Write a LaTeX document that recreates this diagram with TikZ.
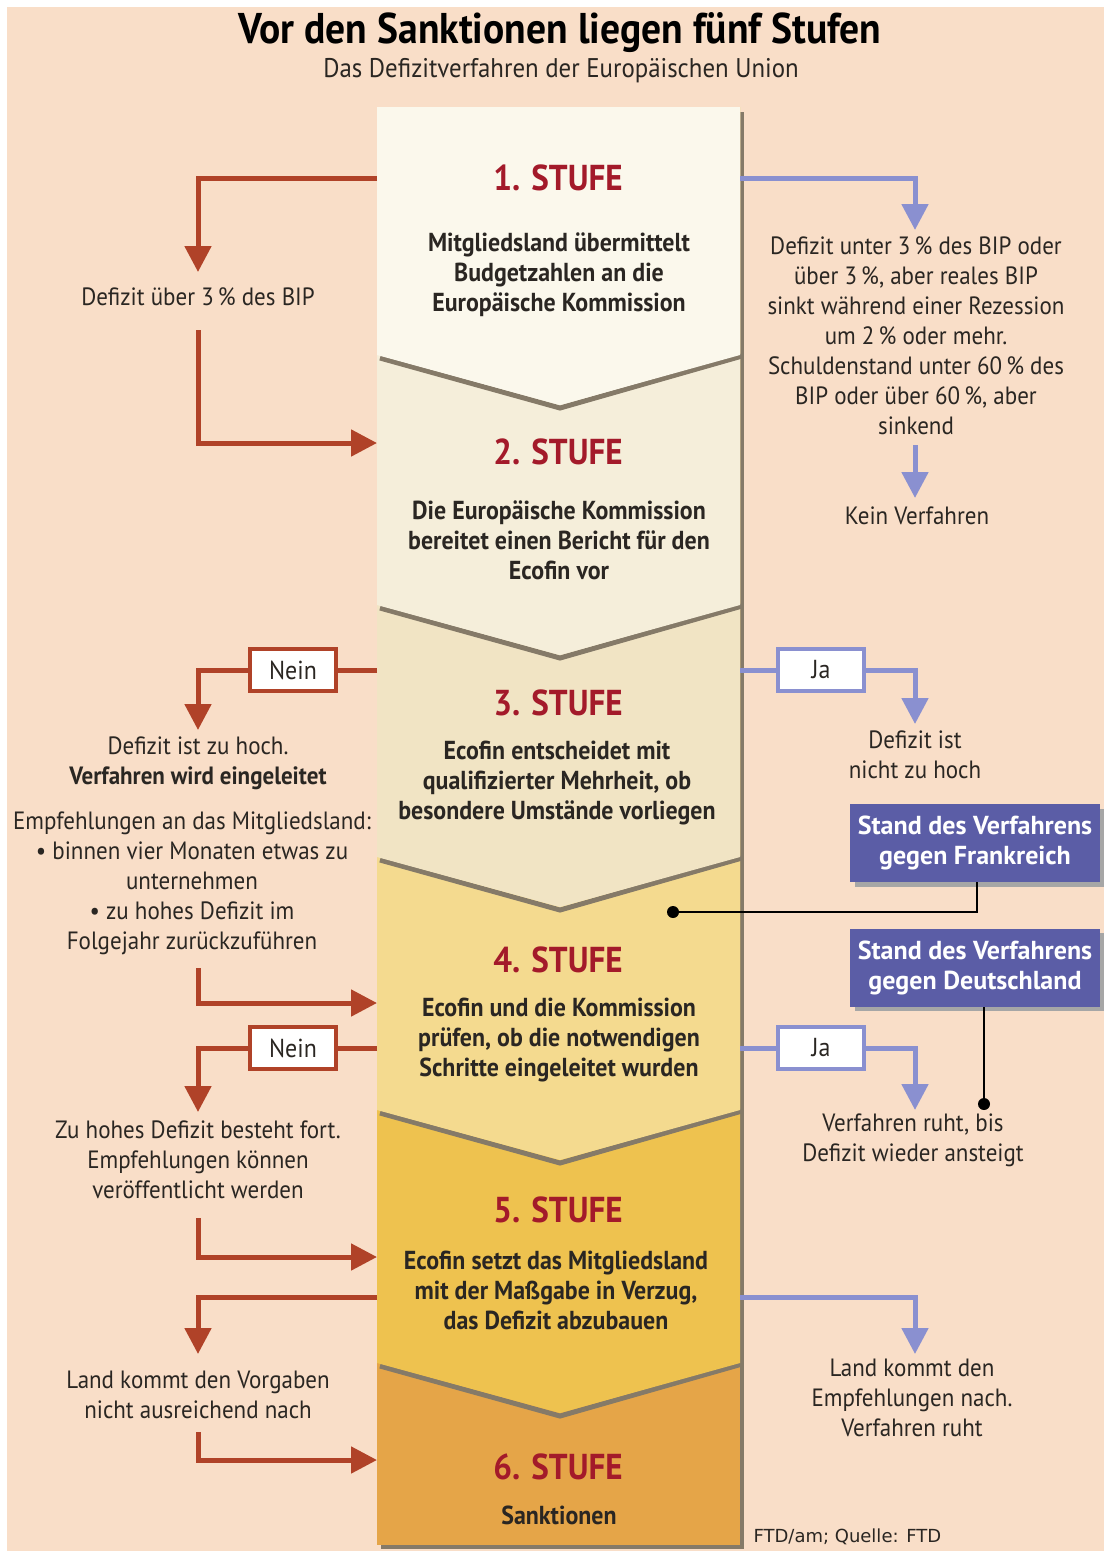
\documentclass[tikz,border=0pt]{standalone}
\usepackage{fontspec}
\setmainfont{PT Sans}[FakeStretch=0.92]
\newfontfamily\footfont{DejaVu Sans}
\newfontfamily\boxfont{PT Sans}
\usetikzlibrary{arrows.meta}
\definecolor{bg}{HTML}{F9DEC8}
\definecolor{sA}{HTML}{FBF8EC}
\definecolor{sB}{HTML}{F5EEDA}
\definecolor{sC}{HTML}{F1E4C4}
\definecolor{sD}{HTML}{F4DA8F}
\definecolor{sE}{HTML}{EEC24F}
\definecolor{sF}{HTML}{E5A548}
\definecolor{stuferot}{HTML}{A31A2A}
\definecolor{arrred}{HTML}{B04228}
\definecolor{arrblue}{HTML}{8A90D0}
\definecolor{boxpurple}{HTML}{5B5DA6}
\definecolor{colshadow}{HTML}{857A68}
\definecolor{txt}{HTML}{2A2622}
\tikzset{
  stufe/.style={text=stuferot, font=\fontsize{36}{40}\selectfont\bfseries},
  body/.style={align=center, text=txt, font=\fontsize{26}{30}\selectfont\bfseries, inner sep=0pt},
  side/.style={align=center, text=txt, font=\fontsize{25}{30}\selectfont, inner sep=0pt},
  redarr/.style={draw=arrred, line width=5, -{Triangle[width=26,length=26]}},
  redline/.style={draw=arrred, line width=5},
  bluearr/.style={draw=arrblue, line width=5, -{Triangle[width=26,length=26]}},
  blueline/.style={draw=arrblue, line width=5},
  neinbox/.style={draw=arrred, line width=4, fill=white, minimum width=86, minimum height=42, inner sep=0pt, text=txt, font=\fontsize{26}{30}\selectfont},
  jabox/.style={draw=arrblue, line width=4, fill=white, minimum width=86, minimum height=42, inner sep=0pt, text=txt, font=\fontsize{26}{30}\selectfont},
  standbox/.style={fill=boxpurple, text=white, align=center, minimum width=250, minimum height=78, inner sep=0pt, font=\boxfont\fontsize{26}{30}\selectfont\bfseries},
  pointer/.style={draw=black, line width=2}
}
\begin{document}
\begin{tikzpicture}[x=1pt,y=-1pt]
\useasboundingbox (0,0) rectangle (1104,1551);
\fill[white] (0,0) rectangle (1104,1551);
\fill[bg] (7,7) rectangle (1104,1551);

% title
\node[text=black, font=\fontsize{43}{46}\selectfont\bfseries] (title) at (560,33) {Vor den Sanktionen liegen fünf Stufen};
\node[text=txt, font=\fontsize{27}{30}\selectfont] (subtitle) at (561,71) {Das Defizitverfahren der Europäischen Union};

% column shadow
\fill[colshadow] (381,112) rectangle (744,1549);
% stages (bottom first)
\fill[sF] (377,107) rectangle (740,1545);
\foreach \L/\c in {1363/sE,1110/sD,857/sC,605/sB,355/sA}{
  \draw[colshadow, line width=5] (380,\L+3) -- (560,\L+53) -- (742,\L+1);
  \fill[\c] (377,107) -- (740,107) -- (740,\L) -- (560,\L+50) -- (377,\L) -- cycle;
}

% stage texts
\node[stufe] (s1) at (558,178) {1. STUFE};
\node[body] (b1) at (559,275) {Mitgliedsland übermittelt\\Budgetzahlen an die\\Europäische Kommission};
\node[stufe] (s2) at (558,452) {2. STUFE};
\node[body] (b2) at (559,540) {Die Europäische Kommission\\bereitet einen Bericht für den\\Ecofin vor};
\node[stufe] (s3) at (558,703) {3. STUFE};
\node[body] (b3) at (557,783) {Ecofin entscheidet mit\\qualifizierter Mehrheit, ob\\besondere Umstände vorliegen};
\node[stufe] (s4) at (558,960) {4. STUFE};
\node[body] (b4) at (559,1040) {Ecofin und die Kommission\\prüfen, ob die notwendigen\\Schritte eingeleitet wurden};
\node[stufe] (s5) at (558,1210) {5. STUFE};
\node[body] (b5) at (556,1290) {Ecofin setzt das Mitgliedsland\\mit der Maßgabe in Verzug,\\das Defizit abzubauen};
\node[stufe] (s6) at (558,1467) {6. STUFE};
\node[body] (b6) at (559,1515) {Sanktionen};

% left texts
\node[side] (l1) at (198,297) {Defizit über 3\,\% des BIP};
\node[side] (l3a) at (198,763) {Defizit ist zu hoch.\\\textbf{Verfahren wird eingeleitet}};
\node[side] (l3b) at (192,883) {Empfehlungen an das Mitgliedsland:\\• binnen vier Monaten etwas zu\\unternehmen\\• zu hohes Defizit im\\Folgejahr zurückzuführen};
\node[side] (l5) at (198,1160) {Zu hohes Defizit besteht fort.\\Empfehlungen können\\veröffentlicht werden};
\node[side] (l7) at (198,1395) {Land kommt den Vorgaben\\nicht ausreichend nach};

% right texts
\node[side] (r1) at (916,336) {Defizit unter 3\,\% des BIP oder\\über 3\,\%, aber reales BIP\\sinkt während einer Rezession\\um 2\,\% oder mehr.\\Schuldenstand unter 60\,\% des\\BIP oder über 60\,\%, aber\\sinkend};
\node[side] (r2) at (917,516) {Kein Verfahren};
\node[side] (r3) at (915,755) {Defizit ist\\nicht zu hoch};
\node[side] (r4) at (913,1140) {Verfahren ruht, bis\\Defizit wieder ansteigt};
\node[side] (r5) at (912,1398) {Land kommt den\\Empfehlungen nach.\\Verfahren ruht};

% decision boxes
\node[neinbox] (n1) at (293,670) {Nein};
\node[neinbox] (n2) at (293,1048) {Nein};
\node[jabox] (j1) at (821,670) {Ja};
\node[jabox] (j2) at (821,1048) {Ja};

% coordinates
\coordinate (cl1) at (377,178);
\coordinate (tl1) at (198,272);
\coordinate (sl2) at (198,330);
\coordinate (el2) at (377,443);
\coordinate (cl3) at (377,670);
\coordinate (tl3) at (198,730);
\coordinate (sl4) at (198,968);
\coordinate (el4) at (377,1003);
\coordinate (cl5) at (377,1048);
\coordinate (tl5) at (198,1112);
\coordinate (sl6) at (198,1218);
\coordinate (el6) at (377,1257);
\coordinate (cl7) at (377,1297);
\coordinate (tl7) at (198,1354);
\coordinate (sl8) at (198,1432);
\coordinate (el8) at (377,1460);
\coordinate (cr1) at (740,178);
\coordinate (tr1) at (915,230);
\coordinate (sr2) at (915,445);
\coordinate (tr2) at (915,498);
\coordinate (cr3) at (740,670);
\coordinate (tr3) at (915,724);
\coordinate (cr4) at (740,1048);
\coordinate (tr4) at (915,1110);
\coordinate (cr5) at (740,1297);
\coordinate (tr5) at (915,1354);

% left arrows
\draw[redarr] (cl1) -| (tl1);
\draw[redarr] (sl2) |- (el2);
\draw[redline] (cl3) -- (n1.east);
\draw[redarr] (n1.west) -| (tl3);
\draw[redarr] (sl4) |- (el4);
\draw[redline] (cl5) -- (n2.east);
\draw[redarr] (n2.west) -| (tl5);
\draw[redarr] (sl6) |- (el6);
\draw[redarr] (cl7) -| (tl7);
\draw[redarr] (sl8) |- (el8);

% right arrows
\draw[bluearr] (cr1) -| (tr1);
\draw[bluearr] (sr2) -- (tr2);
\draw[blueline] (cr3) -- (j1.west);
\draw[bluearr] (j1.east) -| (tr3);
\draw[blueline] (cr4) -- (j2.west);
\draw[bluearr] (j2.east) -| (tr4);
\draw[bluearr] (cr5) -| (tr5);

% status boxes
\fill[gray!70] (855,809) rectangle (1104,887);
\node[standbox] (fr) at (975,843) {Stand des Verfahrens\\gegen Frankreich};
\fill[gray!70] (855,933) rectangle (1104,1011);
\node[standbox] (de) at (975,968) {Stand des Verfahrens\\gegen Deutschland};

\coordinate (dotf) at (673,912);
\coordinate (dotd) at (984,1104);
\draw[pointer] (dotf) -| ([xshift=2]fr.south);
\draw[pointer] (dotd) -- (dotd |- de.south);
\fill (dotf) circle (6);
\fill (dotd) circle (6);

% footer
\node[anchor=west, text=txt, font=\footfont\fontsize{18}{20}\selectfont] (foot) at (750,1537) {FTD/am; Quelle: FTD};
\end{tikzpicture}
\end{document}
